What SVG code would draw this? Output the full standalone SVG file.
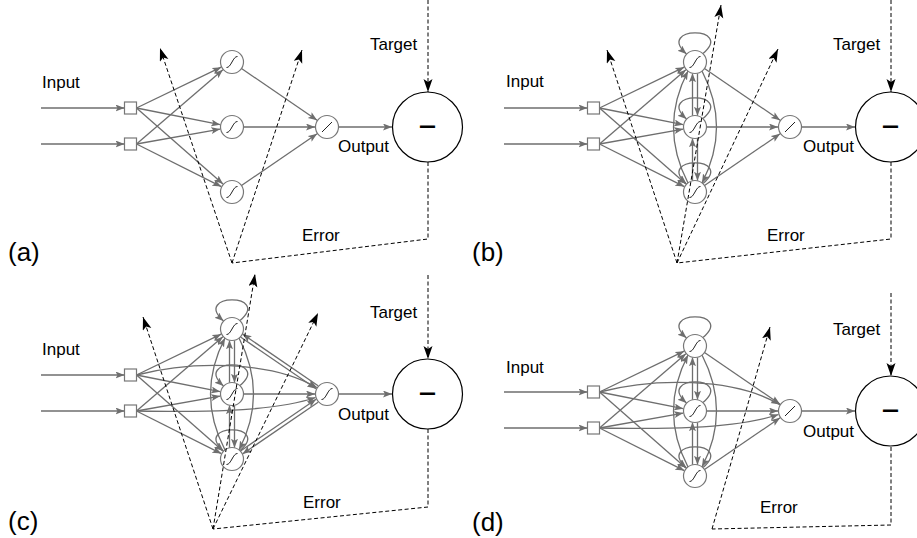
<svg xmlns="http://www.w3.org/2000/svg" xmlns:xlink="http://www.w3.org/1999/xlink" width="917" height="538" viewBox="0 0 917 538">
<style>
.e{fill:none;stroke:#6e6e6e;stroke-width:1.3;marker-end:url(#ga)}
.n{fill:#fff;stroke:#777;stroke-width:1.2}
.g{fill:none;stroke:#222;stroke-width:1}
.d{fill:none;stroke:#000;stroke-width:1;stroke-dasharray:4 2.5}
.da{marker-end:url(#ba)}
.big{fill:#fff;stroke:#000;stroke-width:1.2}
.t{font-family:"Liberation Sans",Arial,Helvetica,sans-serif;font-size:17px;fill:#000}
.lab{font-size:26px}
.minus{font-size:26px;font-weight:bold}
</style>
<defs>
<marker id="ga" markerWidth="10" markerHeight="8" refX="9" refY="3.5" orient="auto" markerUnits="userSpaceOnUse"><path d="M0,0 L9,3.5 L0,7 L2,3.5 z" fill="#6e6e6e"/></marker>
<marker id="ba" markerWidth="14" markerHeight="10" refX="13" refY="4.5" orient="auto" markerUnits="userSpaceOnUse"><path d="M0,0 L13,4.5 L0,9 L3,4.5 z" fill="#000"/></marker>
<path id="sig" class="g" d="M-5.5,5.5 C-1,6 1,-6 5.5,-5.5"/>
<path id="lin" class="g" d="M-5,5 L5,-5"/>
</defs>

<!-- Panel (a) -->
<g id="panel-a">
<g id="a-connectors">
<path class="e" d="M41,108 H124.5"/>
<path class="e" d="M41,144 H124.5"/>
<path class="e" d="M136.5,108 L221.2,67.2"/>
<path class="e" d="M136.5,108 L220.2,124.7"/>
<path class="e" d="M136.5,108 L223,184.1"/>
<path class="e" d="M136.5,144 L222.9,69.8"/>
<path class="e" d="M136.5,144 L220.2,129.1"/>
<path class="e" d="M136.5,144 L221.3,186.6"/>
<path class="e" d="M241.5,68.5 L317.1,120.2"/>
<path class="e" d="M243.5,127 L315,127"/>
<path class="e" d="M241.5,185.5 L317.1,133.8"/>
<path class="e" d="M338.5,127 L392,127"/>
</g>
<g id="a-in1"><rect class="n" x="124.5" y="102" width="12" height="12"/></g>
<g id="a-in2"><rect class="n" x="124.5" y="138" width="12" height="12"/></g>
<g id="a-h1" transform="translate(232,62)"><circle class="n" r="11.5"/><use xlink:href="#sig"/></g>
<g id="a-h2" transform="translate(232,127)"><circle class="n" r="11.5"/><use xlink:href="#sig"/></g>
<g id="a-h3" transform="translate(232,192)"><circle class="n" r="11.5"/><use xlink:href="#sig"/></g>
<g id="a-out" transform="translate(327,127)"><circle class="n" r="11.5"/><use xlink:href="#lin"/></g>
<g id="a-sub"><circle class="big" cx="427.5" cy="127" r="35"/><text class="t minus" x="419" y="134" textLength="17" lengthAdjust="spacingAndGlyphs">–</text></g>
<g id="a-dashed">
<path class="d da" d="M428,0 V92"/>
<path class="d" d="M428,162 V239 L232,263"/>
<path class="d da" d="M232,263 L160,48"/>
<path class="d da" d="M232,263 L302,50"/>
</g>
<text class="t" x="42" y="88">Input</text>
<text class="t" x="370" y="50">Target</text>
<text class="t" x="338" y="152">Output</text>
<text class="t" x="302" y="241">Error</text>
<text class="t lab" x="8" y="261">(a)</text>
</g>

<!-- Panel (b) -->
<g id="panel-b" transform="translate(463,0)">
<g id="b-connectors">
<path class="e" d="M41,108 H124.5"/>
<path class="e" d="M41,144 H124.5"/>
<path class="e" d="M136.5,108 L221.2,67.2"/>
<path class="e" d="M136.5,108 L220.2,124.7"/>
<path class="e" d="M136.5,108 L223,184.1"/>
<path class="e" d="M136.5,144 L222.9,69.8"/>
<path class="e" d="M136.5,144 L220.2,129.1"/>
<path class="e" d="M136.5,144 L221.3,186.6"/>
<path class="e" d="M241.5,68.5 L317.1,120.2"/>
<path class="e" d="M243.5,127 L315,127"/>
<path class="e" d="M241.5,185.5 L317.1,133.8"/>
<path class="e" d="M338.5,127 L392,127"/>
<path class="e" d="M240,53.5 C272,26 192,26 223.5,54"/>
<path class="e" d="M240,118.5 C272,91 192,91 223.5,119"/>
<path class="e" d="M240,183.5 C272,156 192,156 223.5,184"/>
<path class="e" d="M229.5,115.8 V73.2"/>
<path class="e" d="M234.5,73.2 V115.8"/>
<path class="e" d="M229.5,180.8 V138.2"/>
<path class="e" d="M234.5,138.2 V180.8"/>
<path class="e" d="M225,183 Q196,127 225,71"/>
<path class="e" d="M239,71 Q268,127 239,183"/>
</g>
<g id="b-in1"><rect class="n" x="124.5" y="102" width="12" height="12"/></g>
<g id="b-in2"><rect class="n" x="124.5" y="138" width="12" height="12"/></g>
<g id="b-h1" transform="translate(232,62)"><circle class="n" r="11.5"/><use xlink:href="#sig"/></g>
<g id="b-h2" transform="translate(232,127)"><circle class="n" r="11.5"/><use xlink:href="#sig"/></g>
<g id="b-h3" transform="translate(232,192)"><circle class="n" r="11.5"/><use xlink:href="#sig"/></g>
<g id="b-out" transform="translate(327,127)"><circle class="n" r="11.5"/><use xlink:href="#lin"/></g>
<g id="b-sub"><circle class="big" cx="427.5" cy="127" r="35"/><text class="t minus" x="419" y="134" textLength="17" lengthAdjust="spacingAndGlyphs">–</text></g>
<g id="b-dashed">
<path class="d da" d="M428,0 V92"/>
<path class="d" d="M428,162 V239 L214,263"/>
<path class="d da" d="M214,263 L144,50"/>
<path class="d da" d="M214,263 L258,5"/>
<path class="d da" d="M214,263 L315,49"/>
</g>
<text class="t" x="43" y="87">Input</text>
<text class="t" x="370" y="50">Target</text>
<text class="t" x="340" y="152">Output</text>
<text class="t" x="304" y="241">Error</text>
<text class="t lab" x="9" y="261">(b)</text>
</g>

<!-- Panel (c) -->
<g id="panel-c" transform="translate(0,267)">
<g id="c-connectors">
<path class="e" d="M41,108 H124.5"/>
<path class="e" d="M41,144 H124.5"/>
<path class="e" d="M136.5,108 L221.2,67.2"/>
<path class="e" d="M136.5,108 L220.2,124.7"/>
<path class="e" d="M136.5,108 L223,184.1"/>
<path class="e" d="M136.5,144 L222.9,69.8"/>
<path class="e" d="M136.5,144 L220.2,129.1"/>
<path class="e" d="M136.5,144 L221.3,186.6"/>
<path class="e" d="M136.5,108 C190,94 270,93 316.8,120.6"/>
<path class="e" d="M136.5,144 C190,145 270,146 315.5,130.5"/>
<path class="e" d="M240.5,70 L316.1,121.7"/>
<path class="e" d="M318.1,118.7 L242.5,67"/>
<path class="e" d="M243.5,127 L315,127"/>
<path class="e" d="M240.5,184 L316.1,132.3"/>
<path class="e" d="M318.1,135.3 L242.5,187"/>
<path class="e" d="M338.5,127 L392,127"/>
<path class="e" d="M240,53.5 C272,26 192,26 223.5,54"/>
<path class="e" d="M240,118.5 C272,91 192,91 223.5,119"/>
<path class="e" d="M240,183.5 C272,156 192,156 223.5,184"/>
<path class="e" d="M229.5,115.8 V73.2"/>
<path class="e" d="M234.5,73.2 V115.8"/>
<path class="e" d="M229.5,180.8 V138.2"/>
<path class="e" d="M234.5,138.2 V180.8"/>
<path class="e" d="M225,183 Q196,127 225,71"/>
<path class="e" d="M239,71 Q268,127 239,183"/>
</g>
<g id="c-in1"><rect class="n" x="124.5" y="102" width="12" height="12"/></g>
<g id="c-in2"><rect class="n" x="124.5" y="138" width="12" height="12"/></g>
<g id="c-h1" transform="translate(232,62)"><circle class="n" r="11.5"/><use xlink:href="#sig"/></g>
<g id="c-h2" transform="translate(232,127)"><circle class="n" r="11.5"/><use xlink:href="#sig"/></g>
<g id="c-h3" transform="translate(232,192)"><circle class="n" r="11.5"/><use xlink:href="#sig"/></g>
<g id="c-out" transform="translate(327,127)"><circle class="n" r="11.5"/><use xlink:href="#sig"/></g>
<g id="c-sub"><circle class="big" cx="427.5" cy="127" r="35"/><text class="t minus" x="419" y="134" textLength="17" lengthAdjust="spacingAndGlyphs">–</text></g>
<g id="c-dashed">
<path class="d da" d="M428,8 V92"/>
<path class="d" d="M428,162 V240 L213,262"/>
<path class="d da" d="M213,262 L143,50"/>
<path class="d da" d="M213,262 L255,7"/>
<path class="d da" d="M213,262 L318,46"/>
</g>
<text class="t" x="42" y="88">Input</text>
<text class="t" x="370" y="51">Target</text>
<text class="t" x="338" y="153">Output</text>
<text class="t" x="303" y="241">Error</text>
<text class="t lab" x="8" y="263">(c)</text>
</g>

<!-- Panel (d) -->
<g id="panel-d" transform="translate(463,284)">
<g id="d-connectors">
<path class="e" d="M41,108 H124.5"/>
<path class="e" d="M41,144 H124.5"/>
<path class="e" d="M136.5,108 L221.2,67.2"/>
<path class="e" d="M136.5,108 L220.2,124.7"/>
<path class="e" d="M136.5,108 L223,184.1"/>
<path class="e" d="M136.5,144 L222.9,69.8"/>
<path class="e" d="M136.5,144 L220.2,129.1"/>
<path class="e" d="M136.5,144 L221.3,186.6"/>
<path class="e" d="M136.5,108 C190,94 270,93 316.8,120.6"/>
<path class="e" d="M136.5,144 C190,145 270,146 315.5,130.5"/>
<path class="e" d="M241.5,68.5 L317.1,120.2"/>
<path class="e" d="M243.5,127 L315,127"/>
<path class="e" d="M241.5,185.5 L317.1,133.8"/>
<path class="e" d="M338.5,127 L392,127"/>
<path class="e" d="M240,53.5 C272,26 192,26 223.5,54"/>
<path class="e" d="M240,118.5 C272,91 192,91 223.5,119"/>
<path class="e" d="M240,183.5 C272,156 192,156 223.5,184"/>
<path class="e" d="M229.5,115.8 V73.2"/>
<path class="e" d="M234.5,73.2 V115.8"/>
<path class="e" d="M229.5,180.8 V138.2"/>
<path class="e" d="M234.5,138.2 V180.8"/>
<path class="e" d="M225,183 Q196,127 225,71"/>
<path class="e" d="M239,71 Q268,127 239,183"/>
</g>
<g id="d-in1"><rect class="n" x="124.5" y="102" width="12" height="12"/></g>
<g id="d-in2"><rect class="n" x="124.5" y="138" width="12" height="12"/></g>
<g id="d-h1" transform="translate(232,62)"><circle class="n" r="11.5"/><use xlink:href="#sig"/></g>
<g id="d-h2" transform="translate(232,127)"><circle class="n" r="11.5"/><use xlink:href="#sig"/></g>
<g id="d-h3" transform="translate(232,192)"><circle class="n" r="11.5"/><use xlink:href="#sig"/></g>
<g id="d-out" transform="translate(327,127)"><circle class="n" r="11.5"/><use xlink:href="#lin"/></g>
<g id="d-sub"><circle class="big" cx="427.5" cy="127" r="35"/><text class="t minus" x="419" y="134" textLength="17" lengthAdjust="spacingAndGlyphs">–</text></g>
<g id="d-dashed">
<path class="d da" d="M428,9 V92"/>
<path class="d" d="M428,163 V241 L249,245"/>
<path class="d da" d="M249,245 L307,43"/>
</g>
<text class="t" x="43" y="89">Input</text>
<text class="t" x="370" y="51">Target</text>
<text class="t" x="340" y="153">Output</text>
<text class="t" x="297" y="229">Error</text>
<text class="t lab" x="9" y="247">(d)</text>
</g>
</svg>
